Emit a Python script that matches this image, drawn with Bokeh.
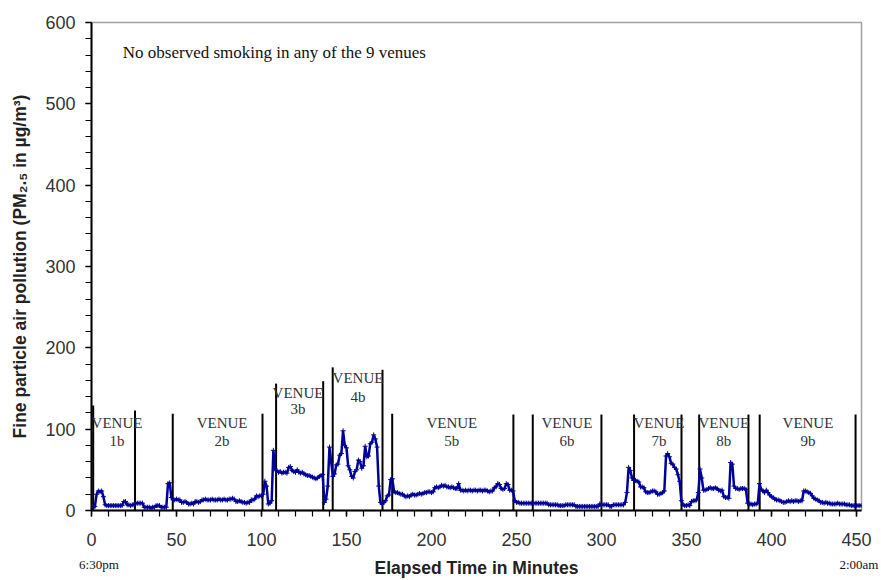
from bokeh.plotting import figure
from bokeh.models import Range1d, SingleIntervalTicker, FixedTicker, Label, LinearAxis
from bokeh.embed import file_html
from bokeh.resources import INLINE
from bokeh.core.properties import value

# PM2.5 (ug/m3), one reading per minute, minutes 0..453
pm25 = [
    4, 4, 5, 20, 24, 23, 24, 17, 7, 6,
    6, 6, 6, 6, 6, 6, 6, 6, 6, 11,
    11, 7, 7, 6, 7, 7, 9, 9, 9, 9,
    9, 4, 4, 4, 4, 3, 4, 4, 6, 6,
    6, 4, 4, 4, 4, 33, 34, 16, 13, 13,
    14, 13, 13, 10, 10, 11, 10, 8, 8, 9,
    8, 11, 11, 10, 11, 13, 13, 14, 13, 13,
    13, 14, 13, 13, 13, 14, 13, 13, 14, 13,
    13, 14, 14, 15, 14, 11, 11, 12, 11, 10,
    10, 9, 10, 10, 13, 13, 14, 18, 17, 18,
    18, 20, 36, 30, 8, 9, 12, 74, 51, 49,
    47, 48, 46, 47, 47, 46, 53, 54, 49, 48,
    47, 50, 47, 46, 47, 45, 44, 43, 43, 42,
    41, 40, 39, 40, 42, 43, 44, 10, 14, 30,
    78, 60, 42, 45, 56, 57, 68, 70, 98, 80,
    77, 55, 50, 42, 40, 48, 50, 62, 60, 52,
    55, 79, 66, 67, 82, 84, 93, 88, 78, 30,
    10, 8, 10, 12, 18, 19, 38, 39, 23, 22,
    22, 21, 20, 20, 18, 17, 18, 17, 19, 20,
    19, 19, 20, 21, 20, 21, 22, 22, 23, 23,
    22, 23, 28, 29, 28, 29, 31, 30, 31, 29,
    29, 28, 29, 28, 27, 27, 33, 25, 25, 24,
    25, 24, 25, 25, 24, 25, 25, 24, 25, 25,
    24, 25, 25, 24, 23, 24, 24, 28, 29, 33,
    32, 27, 26, 27, 33, 32, 25, 25, 24, 12,
    10, 10, 9, 9, 9, 9, 9, 9, 9, 9,
    9, 9, 9, 9, 9, 9, 9, 9, 9, 7,
    7, 7, 7, 7, 7, 6, 6, 6, 6, 7,
    7, 7, 7, 7, 7, 5, 5, 5, 5, 5,
    5, 5, 5, 5, 5, 5, 5, 5, 5, 8,
    7, 7, 7, 7, 7, 5, 5, 7, 7, 7,
    7, 7, 7, 7, 10, 22, 53, 49, 40, 37,
    37, 36, 35, 29, 29, 28, 23, 22, 22, 23,
    24, 24, 23, 20, 20, 21, 22, 24, 67, 70,
    66, 58, 57, 53, 51, 44, 36, 12, 7, 6,
    6, 7, 6, 11, 12, 12, 13, 22, 51, 40,
    25, 25, 26, 27, 28, 27, 27, 28, 27, 25,
    24, 25, 17, 16, 16, 15, 59, 57, 30, 27,
    27, 26, 27, 27, 27, 26, 9, 8, 8, 7,
    8, 8, 9, 33, 26, 24, 22, 25, 22, 19,
    17, 16, 14, 13, 13, 12, 11, 10, 10, 11,
    12, 11, 12, 11, 12, 12, 11, 12, 12, 24,
    24, 23, 22, 21, 18, 15, 14, 13, 12, 10,
    10, 9, 10, 9, 9, 8, 8, 8, 8, 9,
    8, 8, 8, 8, 7, 7, 7, 6, 6, 6,
    6, 6, 6, 6,
]
minutes = list(range(len(pm25)))

# Venue boundary markers (minute, height of marker line)
venue_line_minute = [1, 25.6, 47.8, 100.6, 108.6, 136.3, 141.9, 171.2, 176.9,
                     248.2, 259.6, 300.0, 319.2, 347.1, 357.5, 386.5, 393.1, 449.5]
venue_line_top = [129, 123, 119, 119, 156, 159, 176, 173, 119,
                  118, 118, 118, 118, 118, 118, 118, 118, 118]

# Venue labels
venue_names = ["1b", "2b", "3b", "4b", "5b", "6b", "7b", "8b", "9b"]
venue_label_minute = [15, 76.8, 121.5, 156.8, 212, 279.7, 333.8, 372, 421.5]
venue_word_y = [107, 107, 144, 163.5, 107, 107, 107, 107, 107]
venue_name_y = [86, 86, 125, 139, 86, 86, 86, 86, 86]

# clock-time labels under the time axis
time_label_minute = [4.4, 451.5]
time_label_text = ["6:30pm", "2:00am"]

x_ticks_interval = 50
y_ticks_interval = 100

p = figure(width=881, height=580, output_backend="svg", toolbar_location=None,
           x_range=Range1d(0, 453), y_range=Range1d(0, 600),
           min_border_left=91, min_border_right=20, min_border_top=22,
           min_border_bottom=70)
p.xgrid.visible = False
p.ygrid.visible = False
p.background_fill_color = "white"
p.border_fill_color = "white"
p.outline_line_color = "#A0A0A0"
p.outline_line_width = 1.5

for ax, interval in ((p.xaxis[0], x_ticks_interval), (p.yaxis[0], y_ticks_interval)):
    ax.ticker = SingleIntervalTicker(interval=interval, num_minor_ticks=5)
    ax.axis_line_color = "black"
    ax.axis_line_width = 2
    ax.major_tick_line_color = "black"
    ax.major_tick_line_width = 1.5
    ax.minor_tick_line_color = "black"
    ax.minor_tick_line_width = 1.2
    ax.major_tick_in = 0
    ax.major_tick_out = 6
    ax.minor_tick_in = 0
    ax.minor_tick_out = 6
    ax.major_label_text_font = "Liberation Sans"
    ax.major_label_text_font_size = "18px"
    ax.major_label_text_color = "#333333"

p.xaxis[0].major_label_standoff = 16

yax = p.yaxis[0]
yax.axis_label = "Fine particle air pollution (PM\u2082.\u2085 in \u00b5g/m\u00b3)"
yax.major_label_standoff = 10
yax.axis_label_standoff = 12
yax.axis_label_text_font = "Liberation Sans"
yax.axis_label_text_font_size = "17.5px"
yax.axis_label_text_font_style = "bold"
yax.axis_label_text_color = "#222222"

# second row under the time axis: clock times and axis title
time_axis = LinearAxis(
    ticker=FixedTicker(ticks=time_label_minute),
    major_label_overrides={m: t for m, t in zip(time_label_minute, time_label_text)},
    axis_line_color=None, major_tick_line_color=None, minor_tick_line_color=None,
    major_tick_in=0, major_tick_out=0, minor_tick_in=0, minor_tick_out=0,
    major_label_standoff=8,
    major_label_text_font="Liberation Serif", major_label_text_font_size="13px",
    major_label_text_color="#111111",
    axis_label="Elapsed Time in Minutes", axis_label_standoff=-17,
    axis_label_text_font="Liberation Sans", axis_label_text_font_size="17.5px",
    axis_label_text_font_style="bold", axis_label_text_color="#222222",
)
p.add_layout(time_axis, "below")

# venue boundary lines
p.segment(x0=venue_line_minute, y0=0, x1=venue_line_minute, y1=venue_line_top,
          line_color="black", line_width=2)

# data
p.line(minutes, pm25, line_color="#000099", line_width=2.5)
p.scatter(minutes, pm25, marker="cross", size=5, line_color="#000099", line_width=1)

# venue labels
p.text(x=venue_label_minute, y=venue_word_y, text=["VENUE"] * len(venue_names),
       text_font=value("Liberation Serif"), text_font_size="15px",
       text_align="center", text_baseline="middle", text_color="#333333")
p.text(x=venue_label_minute, y=venue_name_y, text=venue_names,
       text_font=value("Liberation Serif"), text_font_size="15px",
       text_align="center", text_baseline="middle", text_color="#333333")

p.add_layout(Label(x=18.4, y=563, text="No observed smoking in any of the 9 venues",
                   text_font="Liberation Serif", text_font_size="17px",
                   text_baseline="middle", text_color="#111111"))

open("out.html", "w").write(file_html(p, INLINE))
